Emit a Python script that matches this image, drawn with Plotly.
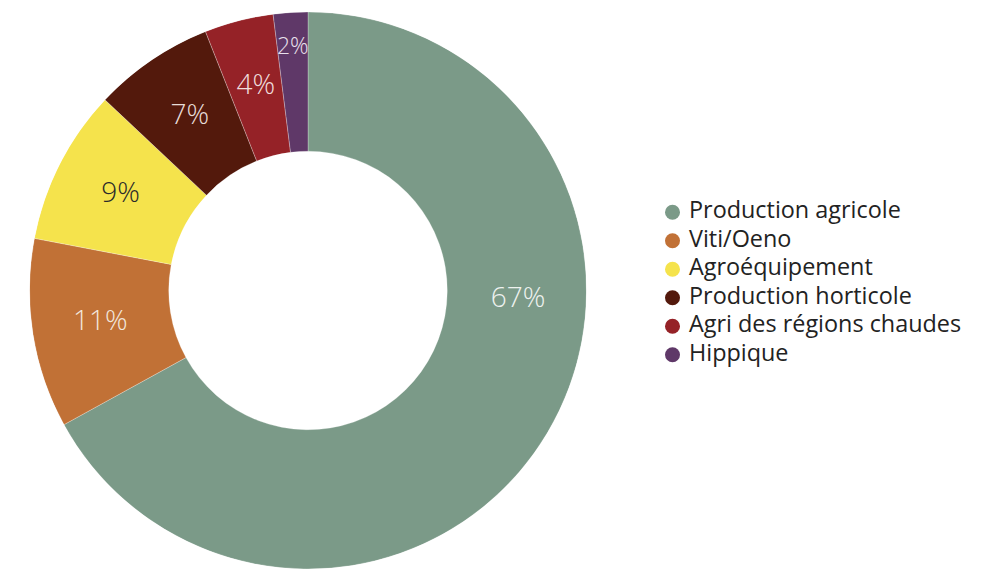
import numpy as np
import plotly.graph_objects as go

categories = ["Production agricole", "Viti/Oeno", "Agroéquipement",
              "Production horticole", "Agri des régions chaudes", "Hippique"]
values = [67, 11, 9, 7, 4, 2]
colors = ["#7b9a88", "#c17136", "#f5e34c", "#53190c", "#952227", "#5f3868"]
text_colors = ["#eef2ef", "#f2e6dc", "#2a2a2a", "#e8dcd8", "#f0dcdc", "#e8e0ec"]

# slice geometry derived from values (degrees, clockwise from 12 o'clock)
vals = np.array(values, dtype=float)
shares = vals / vals.sum() * 360.0
starts = np.concatenate([[0], np.cumsum(shares)[:-1]])
mids = starts + shares / 2.0
label_theta = starts + np.minimum(shares, 185.0) / 2.0
label_r = np.where(vals < 3, 0.87, 0.755)
label_size = np.where(vals < 3, 23, 28)
label_text = [f"{v:.0f}%" for v in vals / vals.sum() * 100]

dom_x = [0, 616 / 989]

fig = go.Figure()
fig.add_trace(go.Barpolar(
    r=[0.5] * len(values), base=[0.5] * len(values), theta=mids, width=shares,
    marker=dict(color=colors, line=dict(color="rgba(255,255,255,0.45)", width=0.6)),
    text=categories, hovertemplate="%{text}<extra></extra>", showlegend=False,
))
fig.add_trace(go.Scatterpolar(
    r=label_r, theta=label_theta, mode="text", text=label_text,
    textfont=dict(family="Open Sans", size=label_size.tolist(), color=text_colors, weight=300),
    showlegend=False, hoverinfo="skip",
))
# legend drawn as markers + text on a hidden categorical axis
fig.add_trace(go.Scatter(
    x=[12.5] * len(categories), y=categories, mode="markers",
    marker=dict(symbol="circle", size=15, color=colors),
    showlegend=False, hoverinfo="skip",
))
fig.add_trace(go.Scatter(
    x=[29] * len(categories), y=categories, mode="text", text=categories,
    textposition="middle right",
    textfont=dict(family="Open Sans", size=23.4, color="#222222"),
    showlegend=False, hoverinfo="skip",
))

fig.update_layout(
    width=989, height=569,
    margin=dict(l=0, r=0, t=12, b=0),
    paper_bgcolor="white", plot_bgcolor="rgba(0,0,0,0)",
    polar=dict(domain=dict(x=dom_x, y=[0, 1]), bgcolor="rgba(0,0,0,0)", bargap=0,
               radialaxis=dict(range=[0, 1], visible=False),
               angularaxis=dict(rotation=90, direction="clockwise", visible=False)),
    xaxis=dict(domain=[660 / 989, 1], range=[0, 329], visible=False, fixedrange=True),
    yaxis=dict(domain=[(569 - 369.0) / 557, (569 - 198.0) / 557], type="category",
               categoryorder="array", categoryarray=categories,
               range=[len(categories) - 0.5, -0.5], visible=False, fixedrange=True),
    font=dict(family="Open Sans", color="#222222"),
)
fig.write_html("out.html")
